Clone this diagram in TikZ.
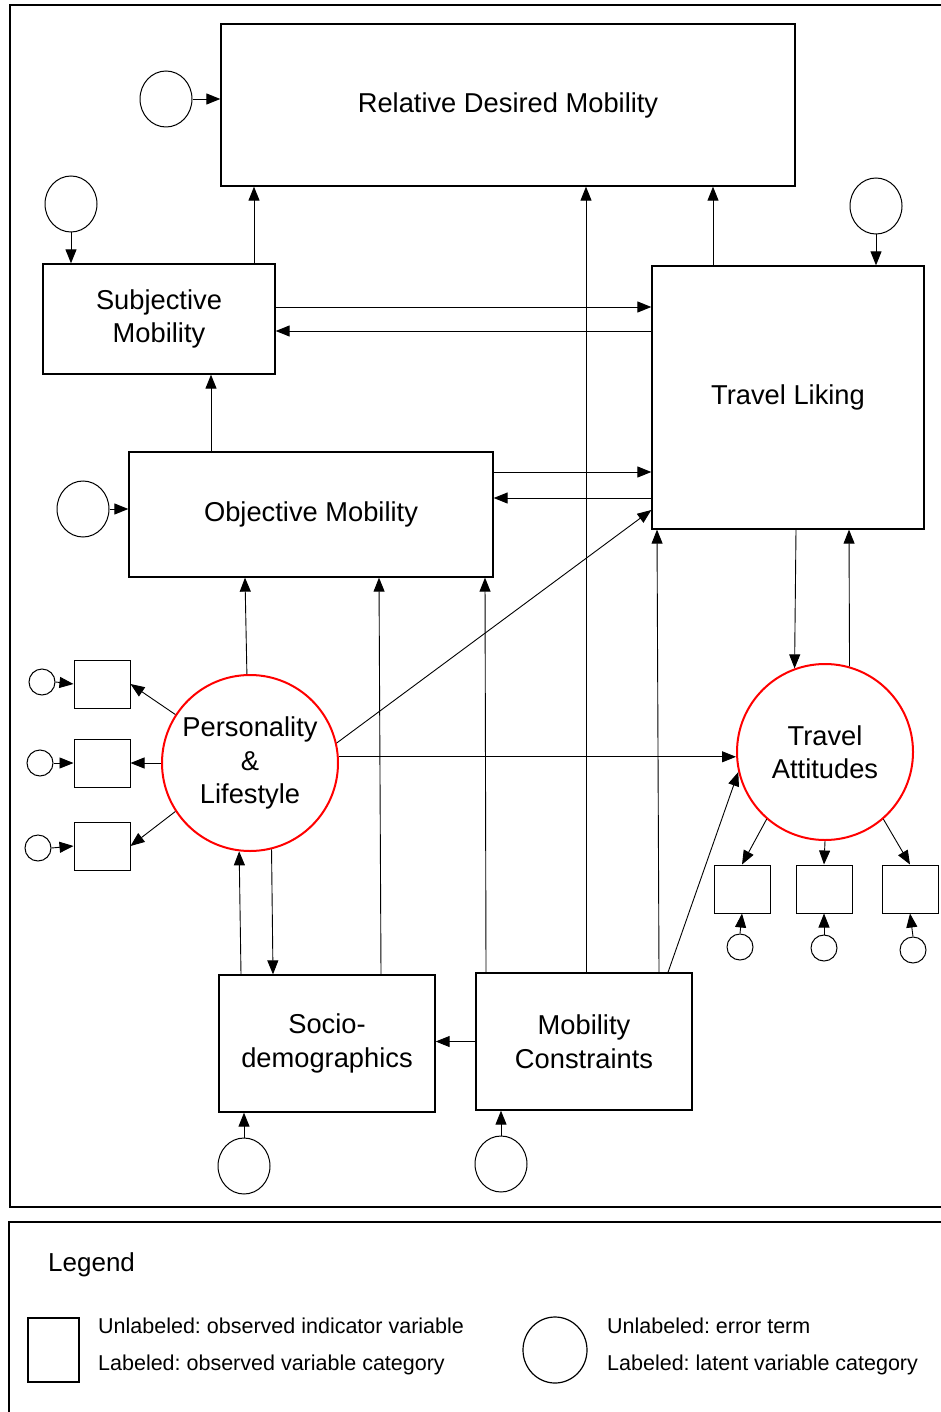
\documentclass[tikz,border=0pt]{standalone}
\usepackage{fontspec}
\setmainfont{Liberation Sans}
\usetikzlibrary{arrows.meta,shapes.geometric}
\frenchspacing
\begin{document}
\begin{tikzpicture}[x=1pt,y=-1pt,
  arr/.style={-{Triangle[length=14pt,width=11pt]}, line width=0.9pt},
  box/.style={draw, line width=1.3pt, rectangle, inner sep=0pt, align=center, font=\fontsize{27.3}{33.5}\selectfont},
  latent/.style={draw=red, line width=2pt, circle, minimum size=176pt, inner sep=0pt, align=center, font=\fontsize{27.3}{33.5}\selectfont},
  err/.style={draw, line width=1pt, ellipse, minimum width=52pt, minimum height=56pt, inner sep=0pt},
  serr/.style={draw, line width=1pt, circle, minimum size=26pt, inner sep=0pt},
  ind/.style={draw, line width=1pt, rectangle, minimum width=56pt, minimum height=48pt, inner sep=0pt},
  frame/.style={draw, line width=2pt},
  legtext/.style={font=\fontsize{21.5}{25}\selectfont, anchor=west, inner sep=0pt}
]
\useasboundingbox (0,0) rectangle (941,1412);
\draw[frame] (10,5) rectangle (960,1207);
\draw[frame] (9,1222) rectangle (960,1430);

% main nodes
\node[box, minimum width=574pt, minimum height=162pt] (rdm) at (508,105) {Relative Desired Mobility};
\node[box, minimum width=232pt, minimum height=110pt] (sm) at (159,319) {Subjective\\Mobility};
\node[box, minimum width=272pt, minimum height=263pt] (tl) at (788,397.5) {Travel Liking};
\node[box, minimum width=364pt, minimum height=125pt] (om) at (311,514.5) {Objective Mobility};
\node[box, minimum width=216pt, minimum height=137pt] (sd) at (327,1043.5) {Socio-\\demographics};
\node[box, minimum width=216pt, minimum height=137pt] (mc) at (584,1041.5) {Mobility\\Constraints};
\node[latent] (pl) at (250,763) {Personality\\\&\\Lifestyle};
\node[latent] (ta) at (825,752) {Travel\\Attitudes};

% error terms
\node[err] (erdm) at (166,99) {};
\node[err] (esm) at (71,204) {};
\node[err] (etl) at (876,206) {};
\node[err] (eom) at (83,509) {};
\node[err] (esd) at (244,1166) {};
\node[err] (emc) at (501,1164) {};

% indicators
\node[ind] (p1) at (102,684) {};
\node[ind] (p2) at (102,763) {};
\node[ind] (p3) at (102,846) {};
\node[serr] (sp1) at (42,682) {};
\node[serr] (sp2) at (40,763) {};
\node[serr] (sp3) at (38,848) {};
\node[ind] (t1) at (742,889) {};
\node[ind] (t2) at (824,889) {};
\node[ind] (t3) at (910,889) {};
\node[serr] (st1) at (740,947) {};
\node[serr] (st2) at (824,948) {};
\node[serr] (st3) at (913,950) {};

% connectors
\draw[arr] (erdm.east) -- (erdm.east -| rdm.west);
\draw[arr] (esm.south) -- (esm.south |- sm.north);
\coordinate (c1) at ([xshift=95pt]sm.north);
\draw[arr] (c1) -- (c1 |- rdm.south);
\draw[arr] (etl.south) -- (etl.south |- tl.north);
\coordinate (c2) at ([xshift=-75pt]tl.north);
\draw[arr] (c2) -- (c2 |- rdm.south);
\coordinate (c3) at ([yshift=12pt]sm.east);
\draw[arr] (c3) -- (c3 -| tl.west);
\coordinate (c4) at ([yshift=-12pt]sm.east);
\draw[arr] (c4 -| tl.west) -- (c4);
\draw[arr] (eom.east) -- (eom.east -| om.west);
\coordinate (c5) at ([xshift=-100pt]om.north);
\draw[arr] (c5) -- (c5 |- sm.south);
\coordinate (c6) at ([yshift=42.5pt]om.east);
\draw[arr] (c6) -- (c6 -| tl.west);
\coordinate (c7) at ([yshift=16.5pt]om.east);
\draw[arr] (c7 -| tl.west) -- (c7);
\coordinate (c8) at ([xshift=2pt]mc.north);
\draw[arr] (c8) -- (c8 |- rdm.south);
\draw[arr] (pl.92) -- ([xshift=-66pt]om.south);
\draw[arr] (pl.13) -- ([yshift=-112.5pt]tl.west);
\coordinate (c9) at (pl.4);
\draw[arr] (c9) -- (c9 -| ta.west);
\draw[arr] (pl.147) -- (p1.east);
\draw[arr] (pl.west) -- (p2.east);
\draw[arr] (pl.213) -- (p3.east);
\draw[arr] (sp1.east) -- (p1.west);
\draw[arr] (sp2.east) -- (p2.west);
\draw[arr] (sp3.east) -- (p3.west);
\coordinate (c10) at ([xshift=-86pt]sd.north);
\draw[arr] (c10) -- (pl.263);
\coordinate (c11) at ([xshift=-54pt]sd.north);
\draw[arr] (pl.284) -- (c11);
\coordinate (c12) at ([xshift=54pt]sd.north);
\draw[arr] (c12) -- ([xshift=68pt]om.south);
\coordinate (c13) at ([xshift=-98pt]mc.north);
\draw[arr] (c13) -- ([xshift=174pt]om.south);
\coordinate (c14) at ([xshift=75pt]mc.north);
\draw[arr] (c14) -- ([xshift=-131pt]tl.south);
\coordinate (c15) at ([xshift=84pt]mc.north);
\draw[arr] (c15) -- (ta.193);
\draw[arr] (mc.west) -- (mc.west -| sd.east);
\draw[arr] (esd.north) -- (esd.north |- sd.south);
\draw[arr] (emc.north) -- (emc.north |- mc.south);
\draw[arr] ([xshift=8pt]tl.south) -- (ta.110);
\draw[arr] (ta.74) -- ([xshift=61pt]tl.south);
\draw[arr] (ta.229) -- (t1.north);
\draw[arr] (ta.south) -- (t2.north);
\draw[arr] (ta.311) -- (t3.north);
\draw[arr] (st1.north) -- (t1.south);
\draw[arr] (st2.north) -- (t2.south);
\draw[arr] (st3.north) -- (t3.south);

% legend
\node[anchor=west, inner sep=0pt, font=\fontsize{26}{30}\selectfont] (leg) at (48,1265) {Legend};
\node[draw, line width=1.5pt, minimum width=51pt, minimum height=64pt, inner sep=0pt] (legbox) at (53.5,1350) {};
\node[draw, line width=1.2pt, ellipse, minimum width=64pt, minimum height=66pt, inner sep=0pt] (legcirc) at (555,1350) {};
\node[legtext] (l1) at (98,1326) {Unlabeled: observed indicator variable};
\node[legtext] (l2) at (98,1365) {Labeled: observed variable category};
\node[legtext] (l3) at (607,1326) {Unlabeled: error term};
\node[legtext] (l4) at (607,1365) {Labeled: latent variable category};
\end{tikzpicture}
\end{document}
